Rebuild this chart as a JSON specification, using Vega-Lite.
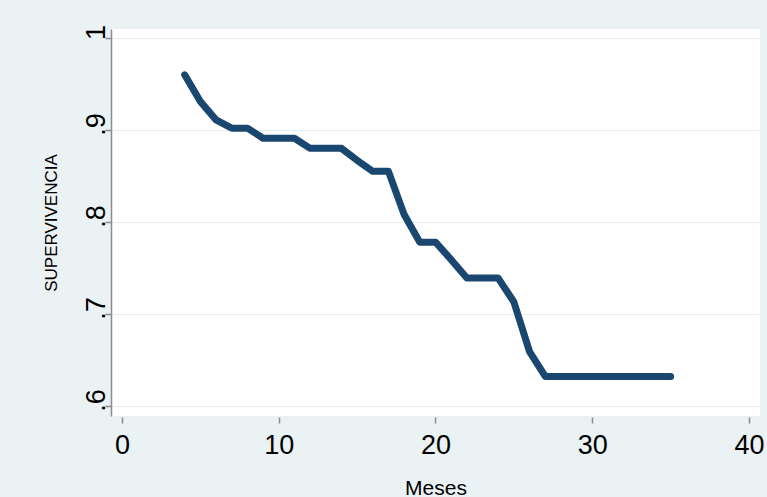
{
  "$schema": "https://vega.github.io/schema/vega-lite/v6.json",
  "autosize": "none",
  "width": 649,
  "height": 387,
  "padding": {"left": 111, "top": 29, "right": 7, "bottom": 81},
  "background": "#EAF2F3",
  "config": {
    "view": {"fill": "white", "stroke": null},
    "font": "Liberation Sans"
  },
  "data": {
    "values": [
      {"mes": 4, "s": 0.960},
      {"mes": 5, "s": 0.931},
      {"mes": 6, "s": 0.911},
      {"mes": 7, "s": 0.902},
      {"mes": 8, "s": 0.902},
      {"mes": 9, "s": 0.891},
      {"mes": 10, "s": 0.891},
      {"mes": 11, "s": 0.891},
      {"mes": 12, "s": 0.880},
      {"mes": 13, "s": 0.880},
      {"mes": 14, "s": 0.880},
      {"mes": 15, "s": 0.867},
      {"mes": 16, "s": 0.855},
      {"mes": 17, "s": 0.855},
      {"mes": 18, "s": 0.808},
      {"mes": 19, "s": 0.778},
      {"mes": 20, "s": 0.778},
      {"mes": 21, "s": 0.759},
      {"mes": 22, "s": 0.739},
      {"mes": 23, "s": 0.739},
      {"mes": 24, "s": 0.739},
      {"mes": 25, "s": 0.713},
      {"mes": 26, "s": 0.659},
      {"mes": 27, "s": 0.632},
      {"mes": 28, "s": 0.632},
      {"mes": 29, "s": 0.632},
      {"mes": 30, "s": 0.632},
      {"mes": 31, "s": 0.632},
      {"mes": 32, "s": 0.632},
      {"mes": 33, "s": 0.632},
      {"mes": 34, "s": 0.632},
      {"mes": 35, "s": 0.632}
    ]
  },
  "mark": {"type": "line", "color": "#1A476F", "strokeWidth": 7, "strokeCap": "round", "strokeJoin": "round"},
  "encoding": {
    "x": {
      "field": "mes", "type": "quantitative", "title": "Meses",
      "scale": {"domain": [-0.7, 40.7], "nice": false, "zero": false},
      "axis": {
        "values": [0, 10, 20, 30, 40],
        "grid": false, "domain": false,
        "offset": 1, "tickSize": 6, "tickColor": "#8c8c8c", "tickWidth": 1.5,
        "labelFontSize": 27, "labelColor": "black", "labelPadding": 9, "labelFont": "Liberation Sans",
        "titleFontSize": 21, "titleFontWeight": "normal", "titleColor": "black", "titleFont": "Liberation Sans",
        "titleY": 77, "titleBaseline": "alphabetic"
      }
    },
    "y": {
      "field": "s", "type": "quantitative", "title": "SUPERVIVENCIA",
      "scale": {"domain": [0.589, 1.0098], "nice": false, "zero": false},
      "axis": {
        "values": [0.6, 0.7, 0.8, 0.9, 1],
        "labelExpr": "datum.value == 1 ? '1' : replace(format(datum.value, '.1f'), '0.', '.')",
        "grid": true, "gridColor": "#E4EEF0", "gridWidth": 1.2,
        "domain": true, "domainColor": "#8c8c8c", "domainWidth": 1.5,
        "tickSize": 6, "tickColor": "#8c8c8c", "tickWidth": 1.5,
        "labelAngle": 270, "labelAlign": "center", "labelBaseline": "alphabetic",
        "labelFontSize": 27, "labelColor": "black", "labelPadding": 1, "labelOffset": -6, "labelFont": "Liberation Sans",
        "titleFontSize": 17, "titleFontWeight": "normal", "titleColor": "black", "titleFont": "Liberation Sans",
        "titleX": -55, "titleBaseline": "alphabetic"
      }
    }
  }
}
